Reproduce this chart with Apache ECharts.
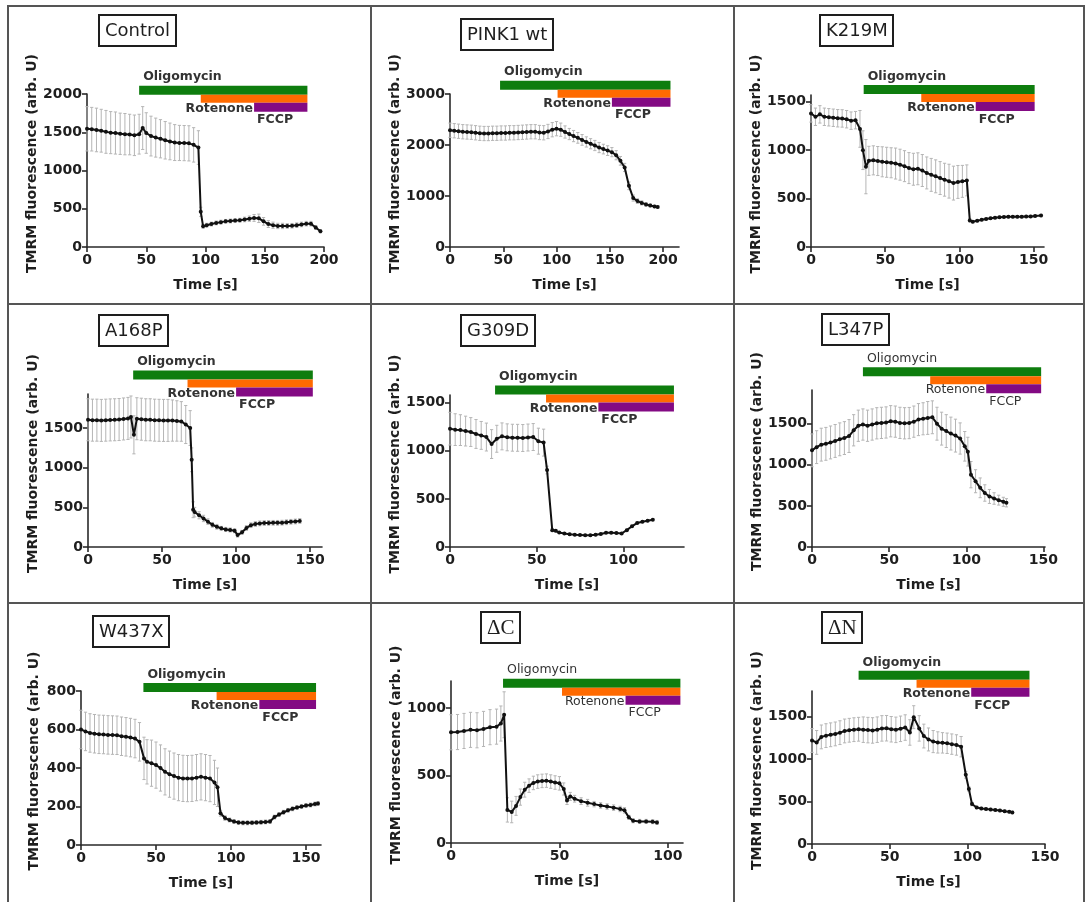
<!DOCTYPE html>
<html>
<head>
<meta charset="utf-8">
<script src="https://cdn.jsdelivr.net/npm/echarts@6/dist/echarts.min.js"></script>
<style>
html, body { margin: 0; padding: 0; background: #fff; }
#main { width: 1086px; height: 902px; }
</style>
</head>
<body>
<div id="main"></div>
<script>
// ---- data (time in s, mean and SD in arb. U) ----
var controlT = [0,4,8,12,16,20,24,28,32,36,40,44,47,50,54,58,62,66,70,74,78,82,86,90,94,96,98,101,105,109,113,117,121,125,129,133,137,141,145,149,153,157,161,165,169,173,177,181,185,189,193,197]
var controlMean = [1545,1540,1530,1520,1505,1495,1490,1480,1475,1470,1460,1475,1555,1490,1450,1430,1415,1395,1380,1365,1360,1358,1355,1335,1300,460,270,285,300,315,325,335,340,345,350,360,370,380,375,335,300,285,275,275,275,278,285,295,305,305,255,205]
var controlSd = [290,285,285,280,280,275,275,270,270,265,265,260,280,265,260,255,250,245,240,235,230,230,230,225,220,60,25,25,25,25,25,25,25,25,25,30,35,45,55,50,45,40,35,35,30,30,30,30,30,30,25,20]
var controlDrugs = [44, 96, 141, 186]

var pinkT = [0,4,8,12,16,20,24,28,32,36,40,44,48,52,56,60,64,68,72,76,80,84,88,92,96,100,104,108,112,116,120,124,128,132,136,140,144,148,152,156,160,164,168,172,176,180,184,188,192,195]
var pinkMean = [2290,2280,2270,2260,2255,2250,2240,2230,2225,2225,2230,2230,2235,2235,2240,2240,2245,2250,2255,2260,2260,2245,2240,2265,2300,2320,2300,2255,2215,2175,2140,2100,2060,2025,1990,1950,1920,1890,1860,1800,1690,1560,1200,960,900,865,835,815,795,785]
var pinkSd = [140,140,140,140,140,140,140,140,140,140,140,140,140,140,140,140,140,140,140,140,140,140,140,140,140,140,130,120,110,110,105,105,100,100,100,100,95,95,90,90,85,80,75,60,45,40,35,30,25,25]
var pinkDrugs = [47, 101, 152, 207]

var k219mT = [0,3,6,9,12,15,18,21,24,27,30,33,35,37,39,42,45,48,51,54,57,60,63,66,69,72,75,78,81,84,87,90,93,96,99,102,105,107,109,112,115,118,121,124,127,130,133,136,139,142,145,148,151,155]
var k219mMean = [1380,1345,1370,1345,1340,1335,1330,1328,1320,1305,1310,1220,1000,830,890,895,888,880,875,870,862,850,835,815,803,808,790,765,745,730,712,695,680,660,672,678,688,275,262,270,282,290,296,302,308,310,312,312,312,312,314,316,320,325]
var k219mSd = [90,90,90,90,90,90,90,90,90,90,90,190,200,280,150,150,150,155,155,155,160,160,160,160,165,165,165,165,170,170,170,170,175,175,170,165,160,15,12,12,12,12,12,12,12,12,12,12,12,12,12,12,12,12]
var k219mDrugs = [35.5, 74.3, 111, 150.7]

var a168pT = [0,3,6,9,12,15,18,21,24,27,29,31,33,36,39,42,45,48,51,54,57,60,63,66,69,70,71,72,75,78,81,84,87,90,93,96,99,101,104,107,110,113,116,119,122,125,128,131,134,137,140,143]
var a168pMean = [1605,1600,1600,1597,1600,1603,1605,1608,1615,1622,1640,1415,1618,1612,1605,1605,1600,1598,1597,1597,1595,1590,1584,1545,1500,1100,470,440,400,360,320,280,255,235,222,215,205,150,185,240,275,290,298,302,304,305,305,307,312,318,322,328]
var a168pSd = [265,265,265,265,265,265,265,265,265,265,265,240,265,265,265,265,265,265,265,265,260,255,250,240,220,150,100,60,45,40,35,30,30,25,25,25,25,25,25,30,30,30,30,30,30,30,30,30,30,30,30,30]
var a168pDrugs = [30.5, 67.2, 100, 151.8]

var g309dT = [0,3,6,9,12,15,18,21,24,27,30,33,36,39,42,45,48,51,54,56,59,61,63,66,69,72,75,78,81,84,87,90,93,96,99,102,105,108,111,114,117]
var g309dMean = [1230,1220,1215,1205,1195,1175,1160,1143,1070,1125,1150,1140,1136,1135,1133,1138,1143,1100,1085,800,175,168,150,140,133,128,125,122,121,128,135,148,149,145,140,175,215,250,262,272,284]
var g309dSd = [170,165,160,155,150,150,145,145,150,140,140,140,140,140,140,140,140,135,140,40,15,12,10,10,10,10,10,10,10,10,10,10,10,10,10,10,10,10,10,10,10]
var g309dDrugs = [26, 55.4, 85.6, 129.2]

var l347pT = [0,3,6,9,12,15,18,21,24,27,30,33,36,39,42,45,48,51,54,57,60,63,66,69,72,75,78,81,84,87,90,93,96,99,101,103,106,109,112,115,118,121,124,126]
var l347pMean = [1176,1215,1245,1255,1272,1290,1310,1325,1350,1420,1475,1490,1475,1490,1505,1510,1515,1530,1525,1510,1505,1508,1525,1550,1560,1570,1578,1500,1440,1410,1380,1355,1320,1225,1160,880,800,720,657,615,590,570,550,538]
var l347pSd = [200,200,200,200,200,200,200,200,200,190,190,190,190,190,190,190,190,190,190,190,190,190,190,195,195,200,200,200,200,200,200,200,190,180,175,160,140,120,100,85,70,60,55,50]
var l347pDrugs = [33, 76.6, 112.9, 148.5]

var w437xT = [0,3,6,9,12,15,18,21,24,27,30,33,36,39,42,44,47,50,53,56,59,62,65,68,71,74,77,80,83,86,89,91,93,96,99,102,105,108,111,114,117,120,123,126,129,132,135,138,141,144,147,150,153,156,158]
var w437xMean = [600,590,582,578,575,574,572,571,570,565,562,558,553,536,450,432,425,415,400,380,368,358,350,346,345,346,350,354,350,345,325,300,165,140,130,122,117,115,115,116,117,118,120,122,145,158,170,180,188,195,200,205,208,213,216]
var w437xSd = [100,100,100,100,100,100,100,100,100,100,100,100,100,100,110,115,120,120,120,120,120,120,120,120,120,120,120,120,120,120,115,100,15,12,10,10,10,10,10,10,10,10,10,10,10,10,10,10,10,10,10,10,10,10,10]
var w437xDrugs = [41.6, 90.4, 118.9, 156.7]

var dcT = [0,3,6,9,12,15,18,21,23,24.5,26,28,30,32,34,36,38,40,42,44,46,48,50,52,53.5,55,57,60,63,66,69,72,75,78,80,82,84,87,90,93,95]
var dcMean = [820,822,830,838,835,845,858,862,885,950,245,230,275,340,395,425,445,455,460,462,455,448,442,400,315,345,328,310,298,288,278,270,262,252,242,190,165,160,160,158,152]
var dcSd = [130,130,130,130,130,130,130,130,130,170,90,80,70,60,55,50,50,50,50,50,50,50,50,45,30,30,25,25,25,20,20,20,20,20,20,15,15,15,15,15,15]
var dcDrugs = [24, 51.2, 80.5, 105.8]

var dnT = [0,3,6,9,12,15,18,21,24,27,30,33,36,39,42,45,48,51,54,57,60,63,65.5,69,72,75,78,81,84,87,90,93,96,99,101,103,106,109,112,115,118,121,124,127,129]
var dnMean = [1218,1195,1260,1275,1285,1295,1310,1330,1338,1345,1350,1345,1340,1336,1345,1360,1362,1350,1343,1355,1370,1312,1492,1360,1270,1230,1205,1195,1190,1185,1175,1165,1145,815,646,470,430,418,412,405,400,393,386,378,372]
var dnSd = [140,140,140,140,140,140,140,140,140,140,140,150,150,150,150,150,150,150,150,150,150,150,135,150,140,135,130,125,120,120,120,120,120,40,25,20,15,15,15,15,15,15,15,15,15]
var dnDrugs = [30, 67.3, 102.5, 140]

// tick labels
var ticksT200 = [0, 50, 100, 150, 200]
var ticksT150 = [0, 50, 100, 150]
var ticksT100 = [0, 50, 100]
var ticksF2000 = [0, 500, 1000, 1500, 2000]
var ticksF3000 = [0, 1000, 2000, 3000]
var ticksF1500 = [0, 500, 1000, 1500]
var ticksF1000 = [0, 500, 1000]
var ticksF800 = [0, 200, 400, 600, 800]

// ---- layout of the 3x3 panels ----
var panels = [
  {name: 'Control', t: controlT, mean: controlMean, sd: controlSd, drugs: controlDrugs,
    left: 87, top: 94, width: 237, height: 153, xMax: 200, yMax: 2000, xTicks: ticksT200, yTicks: ticksF2000,
    barTop: 2109, titleX: 99, titleY: 15, bold: true},
  {name: 'PINK1 wt', t: pinkT, mean: pinkMean, sd: pinkSd, drugs: pinkDrugs,
    left: 450, top: 94, width: 229, height: 153, xMax: 215, yMax: 3000, xTicks: ticksT200, yTicks: ticksF3000,
    barTop: 3262, titleX: 461, titleY: 19, bold: true},
  {name: 'K219M', t: k219mT, mean: k219mMean, sd: k219mSd, drugs: k219mDrugs,
    left: 811, top: 95, width: 233, height: 152, xMax: 157, yMax: 1570, xTicks: ticksT150, yTicks: ticksF1500,
    barTop: 1673, titleX: 820, titleY: 15, bold: true},
  {name: 'A168P', t: a168pT, mean: a168pMean, sd: a168pSd, drugs: a168pDrugs,
    left: 88, top: 394, width: 234, height: 153, xMax: 158, yMax: 1930, xTicks: ticksT150, yTicks: ticksF1500,
    barTop: 2226, titleX: 99, titleY: 315, bold: true},
  {name: 'G309D', t: g309dT, mean: g309dMean, sd: g309dSd, drugs: g309dDrugs,
    left: 450, top: 395, width: 234, height: 152, xMax: 135, yMax: 1580, xTicks: ticksT100, yTicks: ticksF1500,
    barTop: 1680, titleX: 461, titleY: 315, bold: true},
  {name: 'L347P', t: l347pT, mean: l347pMean, sd: l347pSd, drugs: l347pDrugs,
    left: 812, top: 390, width: 233, height: 157, xMax: 151, yMax: 1910, xTicks: ticksT150, yTicks: ticksF1500,
    barTop: 2188, titleX: 822, titleY: 314, bold: false},
  {name: 'W437X', t: w437xT, mean: w437xMean, sd: w437xSd, drugs: w437xDrugs,
    left: 81, top: 691, width: 240, height: 154, xMax: 160, yMax: 800, xTicks: ticksT150, yTicks: ticksF800,
    barTop: 841, titleX: 93, titleY: 616, bold: true},
  {name: '\u0394C', t: dcT, mean: dcMean, sd: dcSd, drugs: dcDrugs,
    left: 451, top: 681, width: 232, height: 162, xMax: 107, yMax: 1200, xTicks: ticksT100, yTicks: ticksF1000,
    barTop: 1217, titleX: 481, titleY: 612, bold: false, serif: true},
  {name: '\u0394N', t: dnT, mean: dnMean, sd: dnSd, drugs: dnDrugs,
    left: 812, top: 691, width: 233, height: 153, xMax: 150, yMax: 1800, xTicks: ticksT150, yTicks: ticksF1500,
    barTop: 2037, titleX: 822, titleY: 612, bold: true, serif: true}
]

var FONT = 'DejaVu Sans'
var INK = '#1e1e1e'

// error bars: grey vertical line with small caps
var errorBar = function (params, api) {
  var lo = api.coord([api.value(0), api.value(1)])
  var hi = api.coord([api.value(0), api.value(2)])
  var c = 1.6
  var st = {stroke: '#b5b5b5', lineWidth: 1}
  return {
    type: 'group',
    children: [
      {type: 'line', shape: {x1: lo[0], y1: lo[1], x2: hi[0], y2: hi[1]}, style: st},
      {type: 'line', shape: {x1: lo[0] - c, y1: lo[1], x2: lo[0] + c, y2: lo[1]}, style: st},
      {type: 'line', shape: {x1: hi[0] - c, y1: hi[1], x2: hi[0] + c, y2: hi[1]}, style: st}
    ]
  }
}

// treatment bars (oligomycin / rotenone / FCCP) with their labels
var drugBars = function (p) {
  var weight = p.bold ? 'bold' : 'normal'
  var font = weight + ' 12.5px "' + FONT + '"'
  return function (params, api) {
    var a = api.coord([api.value(0), p.barTop])
    var b = api.coord([api.value(1), p.barTop])
    var c = api.coord([api.value(2), p.barTop])
    var d = api.coord([api.value(3), p.barTop])
    var y = a[1]
    return {
      type: 'group',
      children: [
        {type: 'rect', shape: {x: a[0], y: y, width: d[0] - a[0], height: 9}, style: {fill: '#0e7d0e'}},
        {type: 'rect', shape: {x: b[0], y: y + 9, width: d[0] - b[0], height: 8}, style: {fill: '#ff6a00'}},
        {type: 'rect', shape: {x: c[0], y: y + 17, width: d[0] - c[0], height: 9}, style: {fill: '#830a83'}},
        {type: 'text', style: {text: 'Oligomycin', x: a[0] + 4, y: y - 2, align: 'left', verticalAlign: 'bottom', font: font, fill: '#333'}},
        {type: 'text', style: {text: 'Rotenone', x: c[0] - 1, y: y + 23, align: 'right', verticalAlign: 'middle', font: font, fill: '#333'}},
        {type: 'text', style: {text: 'FCCP', x: c[0] + 3, y: y + 28, align: 'left', verticalAlign: 'top', font: font, fill: '#333'}}
      ]
    }
  }
}

var plain = function (v) { return String(v) }

var grids = [], xAxes = [], yAxes = [], series = [], titles = []

panels.forEach(function (p, i) {
  grids.push({left: p.left, top: p.top, width: p.width, height: p.height})
  titles.push({
    text: p.name, left: p.titleX, top: p.titleY,
    padding: [5, 6, 4, 6], borderColor: INK, borderWidth: 2,
    textStyle: {fontFamily: p.serif ? 'Liberation Serif' : FONT, fontWeight: 'normal', fontSize: p.serif ? 21 : 18, color: INK, lineHeight: 22}
  })
  xAxes.push({
    gridIndex: i, type: 'value', min: 0, max: p.xMax,
    name: 'Time [s]', nameLocation: 'middle', nameGap: 31,
    nameTextStyle: {fontFamily: FONT, fontWeight: 'bold', fontSize: 14, color: INK},
    axisLine: {show: true, onZero: false, lineStyle: {color: '#2a2a2a', width: 1.6}},
    axisTick: {show: true, length: 5, customValues: p.xTicks, lineStyle: {color: '#2a2a2a', width: 1.6}},
    axisLabel: {customValues: p.xTicks, formatter: plain, margin: 6, fontFamily: FONT, fontWeight: 'bold', fontSize: 14, color: INK},
    splitLine: {show: false}
  })
  yAxes.push({
    gridIndex: i, type: 'value', min: 0, max: p.yMax,
    name: 'TMRM fluorescence (arb. U)', nameLocation: 'middle', nameRotate: 90, nameGap: 40,
    nameTextStyle: {fontFamily: FONT, fontWeight: 'bold', fontSize: 14, color: INK, padding: [0, 0, 0, 14]},
    axisLine: {show: true, lineStyle: {color: '#2a2a2a', width: 1.6}},
    axisTick: {show: true, length: 5, customValues: p.yTicks, lineStyle: {color: '#2a2a2a', width: 1.6}},
    axisLabel: {customValues: p.yTicks, formatter: plain, margin: 5, fontFamily: FONT, fontWeight: 'bold', fontSize: 14, color: INK},
    splitLine: {show: false}
  })
  series.push({
    type: 'custom', xAxisIndex: i, yAxisIndex: i, z: 1,
    renderItem: errorBar, encode: {x: 0, y: [1, 2]},
    data: p.t.map(function (t, k) { return [t, p.mean[k] - p.sd[k], p.mean[k] + p.sd[k]] })
  })
  series.push({
    type: 'line', xAxisIndex: i, yAxisIndex: i, z: 3,
    symbol: 'circle', symbolSize: 4, showSymbol: true, showAllSymbol: true,
    lineStyle: {color: '#111', width: 2}, itemStyle: {color: '#111'},
    data: p.t.map(function (t, k) { return [t, p.mean[k]] })
  })
  series.push({
    type: 'custom', xAxisIndex: i, yAxisIndex: i, z: 4, clip: false,
    renderItem: drugBars(p), encode: {x: 0},
    data: [p.drugs]
  })
})

// panel frame lines
var frameStyle = {stroke: '#555', lineWidth: 2}
var frame = [
  {type: 'rect', shape: {x: 8, y: 6, width: 1076, height: 910}, style: {fill: 'none', stroke: '#555', lineWidth: 2}},
  {type: 'line', shape: {x1: 371, y1: 6, x2: 371, y2: 902}, style: frameStyle},
  {type: 'line', shape: {x1: 734, y1: 6, x2: 734, y2: 902}, style: frameStyle},
  {type: 'line', shape: {x1: 8, y1: 304, x2: 1084, y2: 304}, style: frameStyle},
  {type: 'line', shape: {x1: 8, y1: 603, x2: 1084, y2: 603}, style: frameStyle}
]

var chart = echarts.init(document.getElementById('main'))
chart.setOption({
  animation: false,
  backgroundColor: '#fff',
  title: titles,
  grid: grids,
  xAxis: xAxes,
  yAxis: yAxes,
  series: series,
  graphic: frame
})
</script>
</body>
</html>
